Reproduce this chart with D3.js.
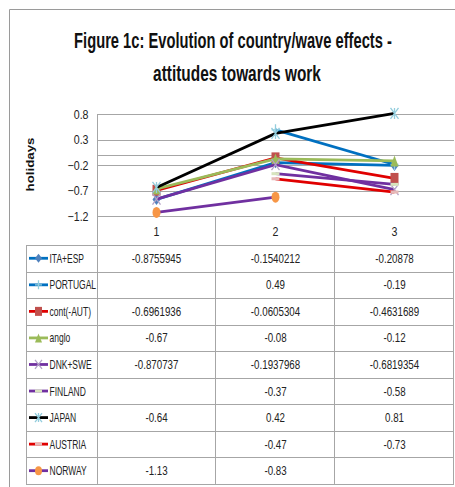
<!DOCTYPE html>
<html>
<head>
<meta charset="utf-8">
<script src="https://cdn.jsdelivr.net/npm/d3@7"></script>
<style>
body { margin: 0; background: #fff; }
text { font-family: "Liberation Sans", Arial, sans-serif; }
</style>
</head>
<body>
<div id="canvas"></div>
<script>
// ----------------------------------------------------------
// DATA -----------------------------------------------------
// ----------------------------------------------------------
var waves = ["1", "2", "3"];
var series_names = ["ITA+ESP", "PORTUGAL", "cont(-AUT)", "anglo", "DNK+SWE", "FINLAND", "JAPAN", "AUSTRIA", "NORWAY"];
var ita_esp = [-0.8755945, -0.1540212, -0.20878];
var portugal = [null, 0.49, -0.19];
var cont_aut = [-0.6961936, -0.0605304, -0.4631689];
var anglo = [-0.67, -0.08, -0.12];
var dnk_swe = [-0.870737, -0.1937968, -0.6819354];
var finland = [null, -0.37, -0.58];
var japan = [-0.64, 0.42, 0.81];
var austria = [null, -0.47, -0.73];
var norway = [-1.13, -0.83, null];
var y_ticks = [0.8, 0.3, -0.2, -0.7, -1.2];

var series_values = [ita_esp, portugal, cont_aut, anglo, dnk_swe, finland, japan, austria, norway];

// styles per series: line colour, marker type, marker colour
var series_style = [
{ line: "#0070C0", marker: "diamond", mcolor: "#4F81BD" },
{ line: "#0070C0", marker: "plus", mcolor: "#93CDDD" },
{ line: "#E00000", marker: "square", mcolor: "#C0504D" },
{ line: "#9BBB59", marker: "triangle", mcolor: "#9BBB59" },
{ line: "#7030A0", marker: "x", mcolor: "#B3A2C7" },
{ line: "#7030A0", marker: "dash", mcolor: "#D7E4BD" },
{ line: "#000000", marker: "star", mcolor: "#93CDDD" },
{ line: "#E00000", marker: "dash", mcolor: "#E6B9B8" },
{ line: "#7030A0", marker: "circle", mcolor: "#F79646" }
];

var data_set = {
container_width: 455,
container_height: 487,
plot_left: 97,
plot_right: 454,
plot_top: 114,
plot_bottom: 216,
table_left: 26,
table_top: 245,
row_height: 26.55,
color_grid: "#A6A6A6",
color_frame: "#9a9a9a",
color_text: "#222"
};

// ----------------------------------------------------------
// STRUCTURE ------------------------------------------------
// ----------------------------------------------------------
var container = d3.select("#canvas").append("svg")
.attr("width", data_set.container_width)
.attr("height", data_set.container_height)
.style("display", "block");

// narrow text helper - squeeze horizontally like the reference font
function narrowText(g, x, y, txt, size, sx, anchor) {
return g.append("text")
.attr("transform", `translate(${x}, ${y}) scale(${sx}, 1)`)
.attr("text-anchor", anchor || "start")
.style("font-size", size + "px")
.style("fill", data_set.color_text)
.text(txt);
}

// outer frame (top and left visible)
container.append("path")
.attr("d", "M9.5,487 V9.5 H455")
.attr("fill", "none")
.attr("stroke", data_set.color_frame)
.attr("stroke-width", 1);

// title - scaled to the reference width
var title_lines = [
{ t: "Figure 1c: Evolution of country/wave effects -", y: 48, w: 318, x: 233 },
{ t: "attitudes towards work", y: 80.5, w: 168, x: 237 }
];
title_lines.forEach(function (d) {
var t = container.append("text")
.attr("text-anchor", "middle")
.style("font-size", "22px")
.style("font-weight", "bold")
.style("fill", "#111")
.text(d.t);
var len = t.node().getComputedTextLength();
t.attr("transform", `translate(${d.x}, ${d.y}) scale(${d.w / len}, 1)`);
});

// scales
var xScale = d3.scaleBand()
.domain(waves)
.range([data_set.plot_left, data_set.plot_right]);

var yScale = d3.scaleLinear()
.domain([-1.2, 0.8])
.range([data_set.plot_bottom, data_set.plot_top]);

// ----------------------------------------------------------
// GRID -----------------------------------------------------
var grid = container.append("g").attr("class", "grid");
grid.selectAll("line.h").data(y_ticks.concat([0])).enter().append("line")
.attr("x1", data_set.plot_left)
.attr("x2", data_set.plot_right)
.attr("y1", (d) => Math.round(yScale(d)) + 0.5)
.attr("y2", (d) => Math.round(yScale(d)) + 0.5)
.attr("stroke", data_set.color_grid)
.attr("stroke-width", 1);

// y axis labels
var yAxis = container.append("g").attr("class", "y_axis");
y_ticks.forEach(function (v) {
narrowText(yAxis, 88.5, yScale(v) + 4.5, d3.format(".1f")(v), 12.5, 0.85, "end");
});

// axis title
container.append("text")
.attr("transform", "translate(33.5, 164.5) rotate(-90)")
.attr("text-anchor", "middle")
.attr("textLength", 54)
.attr("lengthAdjust", "spacingAndGlyphs")
.style("font-size", "11px")
.style("font-weight", "bold")
.style("fill", "#111")
.text("holidays");

// ----------------------------------------------------------
// TABLE ----------------------------------------------------
var table = container.append("g").attr("class", "table");
var n_rows = series_names.length;
var table_bottom = data_set.table_top + n_rows * data_set.row_height;

// horizontal row lines
d3.range(n_rows + 1).forEach(function (i) {
var y = Math.round(data_set.table_top + i * data_set.row_height) + 0.5;
table.append("line")
.attr("x1", data_set.table_left).attr("x2", data_set.plot_right)
.attr("y1", y).attr("y2", y)
.attr("stroke", data_set.color_grid);
});

// vertical lines
table.append("line")
.attr("x1", data_set.table_left + 0.5).attr("x2", data_set.table_left + 0.5)
.attr("y1", data_set.table_top).attr("y2", table_bottom)
.attr("stroke", data_set.color_grid);
table.append("line")
.attr("x1", data_set.plot_left + 0.5).attr("x2", data_set.plot_left + 0.5)
.attr("y1", data_set.plot_top).attr("y2", table_bottom)
.attr("stroke", data_set.color_grid);
waves.forEach(function (w) {
var x = Math.round(xScale(w) + xScale.bandwidth()) - 0.5;
table.append("line")
.attr("x1", x).attr("x2", x)
.attr("y1", data_set.plot_bottom).attr("y2", table_bottom)
.attr("stroke", data_set.color_grid);
});

// category labels
waves.forEach(function (w) {
narrowText(table, xScale(w) + xScale.bandwidth() / 2, 236, w, 12.5, 0.85, "middle");
});

// cell values - shown as in the source table
var fmt = (v) => (v === null ? "" : String(v));
series_values.forEach(function (vals, i) {
vals.forEach(function (v, j) {
narrowText(table, xScale(waves[j]) + xScale.bandwidth() / 2,
data_set.table_top + (i + 0.5) * data_set.row_height + 4.5,
fmt(v), 12.5, 0.78, "middle");
});
});

// ----------------------------------------------------------
// MARKERS --------------------------------------------------
function drawMarker(g, type, color, x, y, sx, sy) {
if (type === "diamond") {
g.append("path").attr("d", `M${x},${y - sy} L${x + sx},${y} L${x},${y + sy} L${x - sx},${y} Z`).attr("fill", color);
} else if (type === "square") {
g.append("rect").attr("x", x - sx).attr("y", y - sy).attr("width", 2 * sx).attr("height", 2 * sy).attr("fill", color);
} else if (type === "triangle") {
g.append("path").attr("d", `M${x},${y - sy} L${x + sx},${y + sy} L${x - sx},${y + sy} Z`).attr("fill", color);
} else if (type === "circle") {
g.append("ellipse").attr("cx", x).attr("cy", y).attr("rx", sx).attr("ry", sy).attr("fill", color);
} else if (type === "dash") {
g.append("rect").attr("x", x - sx).attr("y", y - 1.5).attr("width", 2 * sx).attr("height", 3).attr("fill", color);
} else if (type === "plus") {
g.append("path").attr("d", `M${x - sx},${y} H${x + sx} M${x},${y - sy} V${y + sy}`).attr("stroke", color).attr("stroke-width", 1.3);
} else if (type === "x") {
g.append("path").attr("d", `M${x - sx},${y - sy} L${x + sx},${y + sy} M${x - sx},${y + sy} L${x + sx},${y - sy}`).attr("stroke", color).attr("stroke-width", 1.3);
} else if (type === "star") {
g.append("path").attr("d", `M${x - sx},${y - sy} L${x + sx},${y + sy} M${x - sx},${y + sy} L${x + sx},${y - sy} M${x},${y - sy} V${y + sy}`).attr("stroke", color).attr("stroke-width", 1.3);
}
}

// ----------------------------------------------------------
// LINES ----------------------------------------------------
var gfx = container.append("g").attr("class", "gfx_lines");
var line = d3.line()
.defined((d) => d.v !== null)
.x((d) => xScale(d.w) + xScale.bandwidth() / 2)
.y((d) => yScale(d.v));

series_values.forEach(function (vals, i) {
var pts = vals.map((v, j) => ({ w: waves[j], v: v }));
var st = series_style[i];
var sg = gfx.append("g").attr("class", "series");
sg.append("path")
.attr("d", line(pts))
.attr("fill", "none")
.attr("stroke", st.line)
.attr("stroke-width", 2.8);
pts.filter((p) => p.v !== null).forEach(function (p) {
drawMarker(sg, st.marker, st.mcolor, xScale(p.w) + xScale.bandwidth() / 2, yScale(p.v), 4, 5.5);
});
});

// legend keys in table
var legend = container.append("g").attr("class", "legend");
series_names.forEach(function (name, i) {
var st = series_style[i];
var cy = data_set.table_top + (i + 0.5) * data_set.row_height;
legend.append("line")
.attr("x1", 29).attr("x2", 48)
.attr("y1", cy).attr("y2", cy)
.attr("stroke", st.line).attr("stroke-width", 2.8);
drawMarker(legend, st.marker, st.mcolor, 38.5, cy, 3.5, 4.5);
narrowText(legend, 49.5, cy + 4.5, name, 12.5, 0.68, "start");
});
</script>
</body>
</html>
